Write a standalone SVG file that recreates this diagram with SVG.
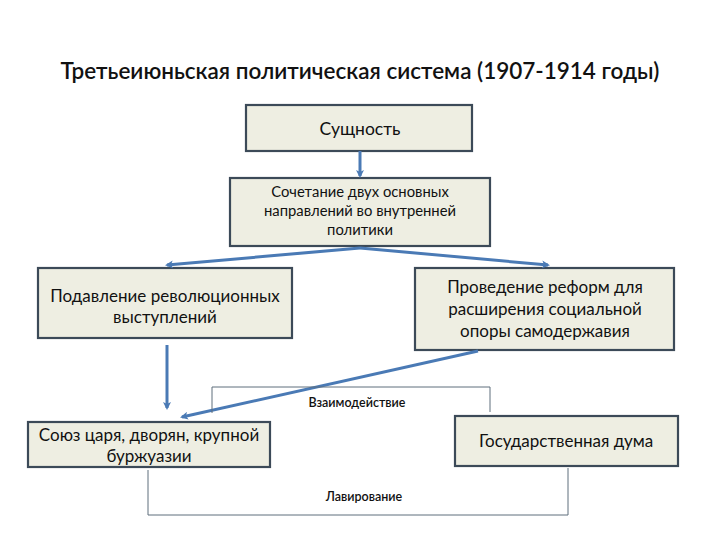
<svg xmlns="http://www.w3.org/2000/svg" width="720" height="540" viewBox="0 0 720 540">
<defs>
<marker id="ah" markerWidth="8" markerHeight="8" refX="6" refY="4" orient="auto" markerUnits="userSpaceOnUse">
<path d="M0,0 L8,4 L0,8 L2,4 Z" fill="#4a7ab5"/>
</marker>
</defs>
<style>
.box{fill:#eeeee2;stroke:#3c4a58;stroke-width:2.2}
.t{font-family:Lato,"Liberation Sans",sans-serif;fill:#111;text-anchor:middle}
.arr{stroke:#4a7ab5;stroke-width:3;fill:none;marker-end:url(#ah)}
.br{stroke:#5f6e7c;stroke-width:1;fill:none}
</style>
<rect width="720" height="540" fill="#fff"/>
<text class="t" x="360" y="79" font-size="22.5" font-weight="600">Третьеиюньская политическая система (1907-1914 годы)</text>
<g id="n1"><rect class="box" x="246" y="105" width="226" height="46"/><text class="t" x="360" y="135" font-size="17.5">Сущность</text></g>
<g id="n2"><rect class="box" x="230" y="178" width="260" height="68"/>
<text class="t" font-size="14.8"><tspan x="360" y="197">Сочетание двух основных</tspan><tspan x="360" y="216">направлений во внутренней</tspan><tspan x="360" y="235">политики</tspan></text></g>
<g id="n3"><rect class="box" x="38" y="268" width="254" height="70"/>
<text class="t" font-size="17"><tspan x="165" y="302">Подавление революционных</tspan><tspan x="165" y="323">выступлений</tspan></text></g>
<g id="n4"><rect class="box" x="415" y="268" width="259" height="82"/>
<text class="t" font-size="17"><tspan x="545" y="293">Проведение реформ для</tspan><tspan x="545" y="315">расширения социальной</tspan><tspan x="545" y="337">опоры самодержавия</tspan></text></g>
<g id="n5"><rect class="box" x="28" y="422" width="242" height="45"/>
<text class="t" font-size="17"><tspan x="149" y="441">Союз царя, дворян, крупной</tspan><tspan x="149" y="462">буржуазии</tspan></text></g>
<g id="n6"><rect class="box" x="455" y="416" width="223" height="50"/>
<text class="t" x="566" y="447" font-size="17">Государственная дума</text></g>
<g id="connectors">
<path class="arr" d="M360,151 L360,176"/>
<path class="arr" d="M360,248 L167,265"/>
<path class="arr" d="M360,248 L548,265"/>
<path class="arr" d="M167,345 L167,408"/>
<path class="arr" d="M478,351 L182,417"/>
<path class="br" d="M212,413 L212,387 L490,387 L490,412"/>
<path class="br" d="M148,470 L148,515 L568,515 L568,468"/>
<text class="t" x="357" y="407" font-size="12.5" font-weight="600">Взаимодействие</text>
<text class="t" x="364" y="501" font-size="12.5" font-weight="600">Лавирование</text>
</g>
</svg>
